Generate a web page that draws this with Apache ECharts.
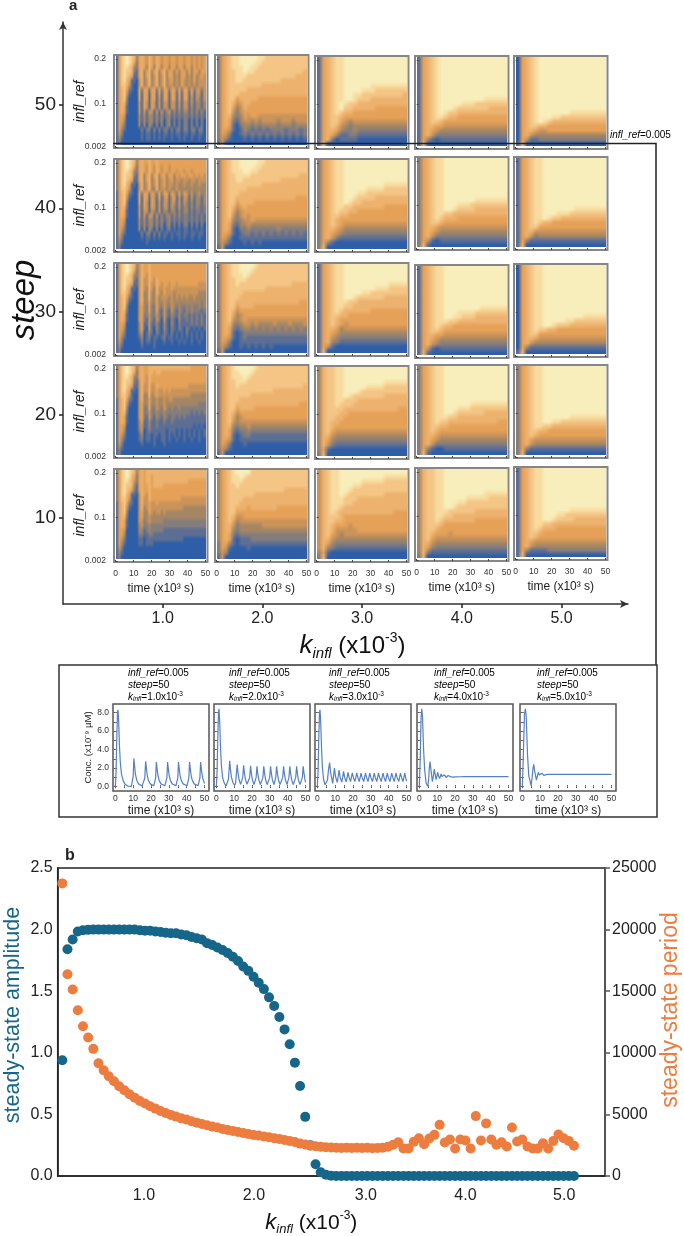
<!DOCTYPE html>
<html><head><meta charset="utf-8">
<script src="https://cdn.jsdelivr.net/npm/echarts@6/dist/echarts.min.js"></script>
<style>html,body{margin:0;padding:0;background:#fff}#c{width:684px;height:1236px}</style>
</head><body><div id="c"></div>
<script>
const rep=(s,n)=>Array(n).fill(s);
// ---- colour level per cell: rows top (infl_ref 0.2) to bottom (0.002), columns time 0 to 50
const s50_k1=["157898763565465465455455455455454545","157898752565465465455455455455454545","157887632565365365355355355355354545","157877621563563563563553535535355355","157876511563563463463553435534353454","157865110463463463463453435434353444","157764100463463463463443435434343444","156752100525525525255255252552524424","156741000515515515155155151551514414","156730000515515514155155151551414314","156620000415415414144144141441413313","156510000415415414144144141441313313","156510000414144141413413131331313131","155400000313133131312312121221212121","155300000313133131302302020220202020","154200000303032030302302020220202020","153100000020220202022020220220220220","142000000010110101011010110110110110","131000000010110101010010010100100100","120000000000000000000000000000000000"];
const s40_k1=["257898763565565565555555555555555555","257898752565465465455455555555555555","257887632565465465455455455455455555","257877621563563563553553545545545454","257876511563563463453453443443443444","257865110463463463453443433433433433","257764100463463363443433433333333333","156752100525525425255254252542423423","156741000515515415145145141441413313","156730000515415414144144141431313313","156620000415415414144143141331313212","156510000414414314133133131331212212","156510000414144141313313131221212121","155400000313133131312312121221212121","155300000313133131302302020220202020","154200000303032030201201010110101010","153100000020220202011010110110110110","142000000010110101010010010100100100","131000000000100000000000000000000000","120000000000000000000000000000000000"];
const s30_k1=["157898763465565555555555555555555555","157898752465565555555555555555555555","157887632465465555555555555555555555","157877621464465465555555555555555555","157876511464464465455455455555555444","157865110464364364454454444444444444","157764100463363364354443444444444333","156752100463363353444343434343343333","156741000463353353343343333333333323","156730000453252253243243232232322323","156620000453252252142142132132322212","156510000452242242142132131221212121","156510000452142142041031031121212121","155400000351141131031031021111212121","155300000351041031031021021021010101","154200000240131021021020101020101010","153100000130120110120110101010101010","142000000020110100010010010100100100","131000000010000100000000000000000000","120000000000000000000000000000000000"];
const s20_k1=["257898763565566666666666666666555555","257898752565566566555555555555555555","257887632565465555555555555555555555","257877621465465555555555555555555555","257876511464464465555555555554444444","257865110464464454454544444444444444","257764100463363454444444444444333333","156752100463353343343443333333333333","156741000453353343343333333333333222","156730000452252243243232232222222222","156620000452242232232222222222121212","156510000452142132132122121211111111","156510000351131121121121111111111111","155400000341131121111111111111101010","155300000240121111110111010101010101","154200000130110110110101010101010101","153100000120110100110100100100100100","142000000010000100010000000000000000","131000000000000000000000000000000000","120000000000000000000000000000000000"];
const s10_k1=["257898763565666666666666666666666666","257898652565665666666666666666666666","257887642565665666666666666665555555","257877631565565666655555555555555555","257876521565565555555555555555555555","257865110465465555555555555555555555","257764100464465555555555554444444444","156752100464454454444444444444444444","156741000463454444444444444333333333","156730000453354344343333333333333333","156620000453343333333333333333333333","156510000442343333322222222222222222","156510000342232222222222222222222222","155400000331232222211111111111111111","155300000221122111111111111111111111","154200000110111111111111111000000000","153100000110111000000000000000000000","142000000000000000000000000000000000","131000000000000000000000000000000000","120000000000000000000000000000000000"];
const s50_k2=["256788999998877777777777","256788999988777777777777","256788899887777777777777","256778898877777777777776","256778887777777777777666","256778877777777776666666","256777777777666666666666","256777776666666666666666","256777666666666666666666","256775666665555555555555","256764566555555555555555","256753465555555555555555","256742455555555555555555","256632354554444444444444","256521344343444434443444","256510233232333323332333","255410132121212222122212","254200121212121212121212","243100010101010101010101","140000000000000000000000"];
const s40_k2=["256788999998877777777777","256788999988777777777777","256788899887777777777777","256778888777777777777766","256778877777777776666666","256777777777666666666666","256777776666666666666666","256777666666666666666666","256776666666666666666555","256775666655555555555555","256764565555555555555555","256753455555555555555555","256742454555555555555555","256632344544444444444444","256521334333333333333333","256510223222222232222222","255410122121212121212121","254200111111111111111111","243100010101000000000000","140000000000000000000000"];
const s30_k2=["256788999987777777777777","256788999877777777777777","256788898777777777777777","256778887777777777777777","256778777777777777776666","256777777777766666666666","256777766666666666666666","256777666666666666666666","256776666666666666666655","256775666655555555555555","256764555555555555555555","256753455555555555555555","256743454444444444444444","256632344343333433343334","256521233232323232323232","256510122222222222222222","255410121111111111111111","254200111111111111111111","243100101010101000000000","140000000000000000000000"];
const s20_k2=["256789999987777777777777","256788999877777777777777","256788898777777777777777","256778887777777777777777","256778777777777777777776","256777777777777666666666","256777777666666666666666","256777666666666666666666","256776666666666666666655","256775666655555555555555","256764555555555555555555","256753455555555555555555","256743444444444444444444","256632334333333333333333","256521223222222222222222","256510122111111111111111","255410111111111111111111","254200010000000000000000","243100000000000000000000","140000000000000000000000"];
const s10_k2=["356789999777777777777777","356788987777777777777777","356788877777777777777777","356778777777777777777777","356777777777777777666666","356777777766666666666666","356777766666666666666666","356777666666666666666666","356776665666666655555555","356775555555555555555555","356764455555555555555555","356753444444444444444444","356642333333444444444444","356632333333333333333333","356521222222222222222222","356510111222222222222222","255310111111111111111111","254100001000000000000000","243000000000000000000000","140000000000000000000000"];
const s50_k3=[...rep("15678899999999999999",6),"15678899999988888888","15678899998887777777","15678899887777777776","15678899877766666666","15678987766666666666","15678977666665555555","15678766555555555555","15677655555555555555","15677543444444444444","15676432333333333333","15665322322222222222","15653112211111111111","15620111100000000000","16000000000000000000"];
const s40_k3=[...rep("25678899999999999999",5),"25678899999999988888","25678899999888877777","25678899988777777777","25678899877776666666","25678898776666666666","25678877666666655555","25678776655555555555","25677665555555555555","25676555555555555555","25676544444444444444","25665433333333333333","25654322222222222222","25642111111111111111","25310000000000000000","26000000000000000000"];
const s30_k3=[...rep("15678899999999999999",4),"15678899999999998888","15678899999998887777","15678899998877777777","15678899877777766666","15678887766666666666","15678877666666666666","15678766666655555555","15677665555555555555","15676555555555555555","15676545555555555555","15665344444444444444","15654333333333333333","15643222222222222222","15632111111111111111","15410000000000000000","16000000000000000000"];
const s20_k3=[...rep("36778899999999999999",3),"36778899999999988888","36778899999888877777","36778899987777777777","36778898777777766666","36778877766666666666","36778777666666666666","36777766666666666655","36777665555555555555","36776655555555555555","36766555555555555555","36765555555555555555","36754444444444444444","36643333333333333333","36532222222222222222","36421111111111111111","35100000000000000000","26000000000000000000"];
const s10_k3=["46788999999999999999","46788999999999988888","46788999998888877777","46788999887777777777","46788998777777777777","46788987777777766666","46788877766666666666","46788877666666666666","46788766666666666666","46787666666666666555","46777655555555555555","46776655555555555555","46765554555555555555","46764444455555555555","46754344444444444444","46643333333333333333","46532222222222222222","46321111111111111111","35100000000000000000","26000000000000000000"];
const s50_k4=[...rep("15678999999999999999",9),"15678999999999988888","15678999998887777777","15678999877777776666","15678987766666666666","15678876655555555555","15677655555555555555","15665544444444444444","15654333333333333333","15642222222222222222","15310111111111111111","16000000000000000000"];
const s40_k4=[...rep("25678899999999999999",9),"25678899999998888888","25678899988877777777","25678899877776666666","25678877666666666666","25678766655555555555","25677655555555555555","25665444444444444444","25654333333333333333","25642222222222222222","25410111111111111111","26100000000000000000"];
const s30_k4=[...rep("15678899999999999999",9),"15678899999999888888","15678899988887777777","15678899887776666666","15678887766666666666","15678766555555555555","15677655555555555555","15665544444444444444","15654333333333333333","15643222222222222222","15410111111111111111","16100000000000000000"];
const s20_k4=[...rep("25678899999999999999",8),"25678899999988888888","25678899988877777777","25678899877777766666","25678887766666666666","25678776666666666655","25677665555555555555","25676555555555555555","25665444444444444444","25654333333333333333","25642222222222222222","25310011111111111111","26100000000000000000"];
const s10_k4=[...rep("36778899999999999999",5),"36778899999999988888","36778899999888887777","36778899988777777777","36778899877777777777","36778887777776666666","36778877666666666666","36778766666665555555","36777655555555555555","36776555555555555555","36765554555555555555","36754444444444444444","36643333333333333333","36532222222222222222","36311111111111111111","26000000000000000000"];
const s50_k5=[...rep("05678999999999999999",12),"05678999999988888888","05678999887777777777","05678987666666666666","05677665555555555555","05665445555555555555","05643333333333333333","05411222222222222222","16000000000000000000"];
const s40_k5=[...rep("15678899999999999999",11),"15678899999998888888","15678899988877777777","15678898776666666666","15678766555555555555","15677555555555555555","15664444444444444444","15642333333333333333","15311111111111111111","16000000000000000000"];
const s30_k5=[...rep("05678899999999999999",11),"05678899999999988888","05678899999887777777","05678899877766666666","05678776655555555555","05677555555555555555","05665444444444444444","05643333333333333333","05311111111111111111","16000000000000000000"];
const s20_k5=[...rep("25678899999999999999",11),"25678899999988888888","25678899887777777777","25678877666666666666","25677665555555555555","25676555555555555555","25654444444444444444","25643333333333333333","25311111111111111111","26000000000000000000"];
const s10_k5=[...rep("15678899999999999999",9),"15678899999988888888","15678899988777777777","15678899877776666666","15678877666666666666","15678766655555555555","15677655555555555555","15676555555555555555","15654444444444444444","15643333333333333333","15311112222222222222","16000000000000000000"];
const heatPanels=[[s50_k1,s50_k2,s50_k3,s50_k4,s50_k5],[s40_k1,s40_k2,s40_k3,s40_k4,s40_k5],[s30_k1,s30_k2,s30_k3,s30_k4,s30_k5],[s20_k1,s20_k2,s20_k3,s20_k4,s20_k5],[s10_k1,s10_k2,s10_k3,s10_k4,s10_k5]];
const levelColors=["#2f5ea8","#5c6e94","#847d7c","#a58664","#ca935a","#e5a158","#edb26e","#f4c585","#f8dc9f","#f8eebb"];

// ---- concentration traces [time, value]
const conc_k1=[[0,0],[.4,1.5],[.8,5],[1.2,8],[1.5,8.3],[1.9,7],[2.3,4.5],[2.8,2.6],[3.5,1.3],[4.5,.6],[5.5,.25],[7,.06],[9,.02],[9.6,.2],[10,1.1],[10.4,3.05],[10.8,2.2],[11.3,1.3],[12,.7],[13,.3],[14,.15],[15,.08],[16,.15],[16.5,.9],[17,2.75],[17.4,2],[17.9,1.2],[18.6,.65],[19.6,.3],[20.6,.15],[21.6,.1],[22.2,.25],[22.6,.95],[23,2.65],[23.4,1.95],[23.9,1.2],[24.6,.65],[25.6,.3],[26.6,.15],[27.8,.1],[28.5,.25],[28.9,.95],[29.3,2.65],[29.7,1.95],[30.2,1.2],[30.9,.65],[31.9,.3],[32.9,.15],[34,.1],[34.6,.25],[35,.95],[35.4,2.65],[35.8,1.95],[36.3,1.2],[37,.65],[38,.3],[39,.15],[40.2,.1],[40.8,.25],[41.2,.95],[41.6,2.65],[42,1.95],[42.5,1.2],[43.2,.65],[44.2,.3],[45.2,.15],[46.4,.1],[47,.25],[47.4,.95],[47.8,2.65],[48.2,1.95],[48.7,1.2],[49.4,.65],[50,.35]];
const conc_k2=[[0,0],[.4,1.5],[.8,5],[1.2,8],[1.5,8.4],[1.9,7],[2.3,4.5],[2.8,2.4],[3.5,1],[4.5,.35],[5.5,.1],[6.3,.12],[6.8,.8],[7.5,2.8],[7.9,1.9],[8.5,1],[9.3,.45],[10.2,.12],[10.8,.4],[11.2,1.3],[11.7,2.4],[12.1,1.6],[12.7,.8],[13.6,.25],[14.4,.12],[14.8,1],[15.3,2.3],[15.7,1.55],[16.3,.8],[17.2,.25],[18.2,.1],[18.7,1],[19.2,2.25],[19.6,1.5],[20.2,.75],[21.1,.22],[21.9,.1],[22.3,1],[22.8,2.2],[23.2,1.5],[23.8,.75],[24.7,.22],[25.6,.1],[26.1,1],[26.6,2.2],[27,1.5],[27.6,.75],[28.5,.22],[29.5,.1],[29.9,1],[30.4,2.2],[30.8,1.5],[31.4,.75],[32.3,.22],[32.9,.1],[33.3,1],[33.8,2.2],[34.2,1.5],[34.8,.75],[35.7,.22],[36.7,.1],[37.2,1],[37.7,2.2],[38.1,1.5],[38.7,.75],[39.6,.22],[40.3,.1],[40.7,1],[41.2,2.2],[41.6,1.5],[42.2,.75],[43.1,.22],[44,.1],[44.5,1],[45,2.2],[45.4,1.5],[46,.75],[46.9,.22],[47.8,.1],[48.2,1],[48.7,2.2],[49.1,1.5],[49.7,.75],[50,.45]];
const conc_k3=[[0,0],[.4,1.5],[.8,5],[1.2,8],[1.5,8.3],[1.9,7],[2.3,4.5],[2.8,2.2],[3.5,.8],[4.3,.2],[5.1,.1],[5.7,.7],[6.3,1.9],[6.9,2.6],[7.4,1.6],[8.6,.35],[9,1],[9.6,2],[10.2,1.1],[11.2,.45],[11.7,1.1],[12.2,1.8],[12.8,1],[13.7,.5],[14.2,1],[14.7,1.65],[15.3,1],[16.2,.52],[16.7,1],[17.2,1.55],[17.8,1],[18.6,.55],[19.1,1],[19.6,1.5],[20.2,1],[21,.55],[21.6,1],[22.1,1.48],[22.7,1],[23.5,.55],[24,1],[24.5,1.46],[25.1,1],[26,.55],[26.5,1],[27,1.45],[27.6,1],[28.4,.55],[28.9,1],[29.4,1.45],[30,1],[30.9,.55],[31.4,1],[31.9,1.45],[32.5,1],[33.3,.55],[33.8,1],[34.3,1.45],[34.9,1],[35.8,.55],[36.3,1],[36.8,1.45],[37.4,1],[38.2,.55],[38.7,1],[39.2,1.45],[39.8,1],[40.7,.55],[41.2,1],[41.7,1.45],[42.3,1],[43.1,.55],[43.6,1],[44.1,1.45],[44.7,1],[45.6,.55],[46.1,1],[46.6,1.45],[47.2,1],[48,.55],[48.5,1],[49,1.45],[49.6,.9],[50,.6]];
const conc_k4=[[0,0],[.5,3],[1,7.5],[1.4,8.4],[1.8,7.5],[2.4,4],[3,1.8],[3.8,.4],[4.7,.05],[5.2,.7],[5.6,2],[6,2.7],[6.5,1.9],[7.3,.55],[7.9,1.2],[8.4,1.9],[8.9,1.3],[9.4,.75],[9.9,1.2],[10.3,1.55],[10.8,1.15],[11.3,.88],[11.8,1.1],[12.2,1.38],[12.7,1.1],[13.2,.95],[13.7,1.1],[14.1,1.27],[14.6,1.08],[15.1,.98],[15.6,1.08],[16,1.2],[16.5,1.08],[17,1],[17.5,1.08],[17.9,1.15],[18.8,1.03],[19.8,1.12],[20.8,1.05],[21.8,1.1],[23,1.07],[25,1.09],[50,1.08]];
const conc_k5=[[0,0],[.5,3],[1.2,7.8],[1.7,8.4],[2.2,7.5],[2.9,3.5],[3.6,1.2],[4.9,.1],[5.5,1],[6,2],[6.4,2.4],[6.9,1.7],[7.9,.7],[8.5,1.2],[9,1.55],[9.5,1.25],[10,1.05],[10.5,1.25],[11,1.45],[11.5,1.3],[12,1.22],[12.5,1.32],[13,1.38],[14,1.33],[50,1.33]];
const concTraces=[conc_k1,conc_k2,conc_k3,conc_k4,conc_k5];
const kinflTexts=["1.0","2.0","3.0","4.0","5.0"];

// ---- panel b
const amplitude=[.94,1.84,1.92,1.985,1.995,1.998,2,2,2,2,2,2,2,2,2,1.995,1.99,1.99,1.985,1.98,1.975,1.97,1.97,1.96,1.955,1.94,1.93,1.92,1.89,1.875,1.855,1.835,1.81,1.78,1.745,1.7,1.665,1.617,1.568,1.517,1.45,1.38,1.29,1.19,1.07,.92,.73,.48,.25,.095,.03,.01,.003,...rep(0,47)];
const period=[23750,16380,15140,13460,12160,11240,10320,9150,8580,8100,7690,7280,6960,6630,6360,6090,5880,5660,5470,5280,5120,4960,4820,4680,4580,4440,4330,4220,4120,4010,3930,3820,3740,3660,3570,3490,3410,3330,3280,3200,3140,3060,3010,2920,2840,2760,2630,2550,2460,2410,2380,2330,2310,2300,2280,2290,2280,2300,2270,2290,2260,2280,2290,2380,2530,2740,2230,2230,2770,3070,2580,3040,3340,4160,2720,2960,2230,2960,2880,2230,4860,2880,4270,2960,2530,2740,2390,3940,2800,2960,2390,2230,2230,2660,2230,2850,3370,3070,2850,2450];
const kinflStart=0.15, kinflStep=0.05;
const kinfl=amplitude.map((_,i)=>+(kinflStart+i*kinflStep).toFixed(2));
const bTickAt=[0.94,2.004,3.087,4.05,5.005];

// ---- layout
const F='"Liberation Sans",Arial,sans-serif';
const panelLeft=[114,215,315,415,514];
const panelTop=[[55,55,56,56,56],[159,159,159,157,157],[263,263,263,265,264],[365,365,366,365,365],[469,469,469,468,467]];
const grid=[],xAxis=[],yAxis=[],series=[];
function addGrid(g){grid.push({outerBoundsMode:'none',containLabel:false,...g});return grid.length-1;}
const gap=()=>({show:false});

// big outer axes
let gi=addGrid({left:63,top:22,width:565,height:582});
xAxis.push({gridIndex:gi,type:'value',min:0,max:5.667,splitLine:gap(),
 axisLine:{show:true,onZero:false,symbol:['none','arrow'],symbolSize:[6,8],lineStyle:{color:'#333',width:1.5}},
 axisTick:{show:true,length:4,customValues:[1,2,3,4,5],lineStyle:{color:'#222',width:1.5}},
 axisLabel:{customValues:[1,2,3,4,5],formatter:v=>v.toFixed(1),fontFamily:F,fontSize:16,color:'#222',margin:7},
 name:'{k|k}{s|infl}{t| (x10}{u|-3}{t|)}',nameLocation:'middle',nameGap:27,
 nameTextStyle:{padding:[0,0,0,14],rich:{k:{fontFamily:F,fontStyle:'italic',fontSize:26,color:'#111',lineHeight:30},s:{fontFamily:F,fontStyle:'italic',fontSize:15,color:'#111',verticalAlign:'bottom',lineHeight:30},t:{fontFamily:F,fontSize:24,color:'#111',lineHeight:30},u:{fontFamily:F,fontSize:14,color:'#111',verticalAlign:'top',lineHeight:30}}}});
yAxis.push({gridIndex:gi,type:'value',min:1.67,max:58.04,splitLine:gap(),
 axisLine:{show:true,onZero:false,symbol:['none','arrow'],symbolSize:[6,8],lineStyle:{color:'#333',width:1.5}},
 axisTick:{show:true,length:4,customValues:[10,20,30,40,50],lineStyle:{color:'#222',width:1.5}},
 axisLabel:{customValues:[10,20,30,40,50],fontFamily:F,fontSize:19,color:'#222',margin:7},
 name:'steep',nameLocation:'middle',nameGap:22,nameRotate:90,nameMoveOverlap:false,
 nameTextStyle:{fontFamily:F,fontStyle:'italic',fontSize:33,color:'#111',padding:[0,0,0,26]}});
series.push({type:'scatter',xAxisIndex:xAxis.length-1,yAxisIndex:yAxis.length-1,data:[],silent:true});

// heatmap panels: each panel's cells are painted one pixel per cell, then scaled through the axes with smoothing
const heatTop=0.2068,heatBottom=0.0065;
function cellsToCanvas(rows){
 const w=Math.max(...rows.map(s=>s.length)),cv=document.createElement('canvas');
 cv.width=w;cv.height=rows.length;
 const ctx=cv.getContext('2d');
 rows.forEach((str,ri)=>{for(let i=0;i<w;i++){ctx.fillStyle=levelColors[+str[Math.floor(i*str.length/w)]];ctx.fillRect(i,ri,1,1);}});
 return cv;
}
function makeRender(cv){return function(params,api){
 if(params.dataIndex!==0) return null;
 const a=api.coord([0,heatTop]),b=api.coord([50,heatBottom]);
 return {type:'image',style:{image:cv,x:a[0],y:a[1],width:b[0]-a[0],height:b[1]-a[1]}};
};}
heatPanels.forEach((row,r)=>row.forEach((rows,c)=>{
 const g=addGrid({left:panelLeft[c],top:panelTop[r][c],width:93.5,height:93,show:true,borderColor:'#868686',borderWidth:2,backgroundColor:'transparent'});
 const last=r===4,first=c===0;
 xAxis.push({gridIndex:g,type:'value',min:-0.95,max:51.1,splitLine:gap(),axisLine:gap(),z:5,
  axisTick:{show:true,inside:true,length:2,customValues:[0,10,20,30,40,50],lineStyle:{color:'#444',width:1}},
  axisLabel:last?{customValues:[0,10,20,30,40,50],fontFamily:F,fontSize:8.5,color:'#333',margin:7}:{show:false},
  name:last?'time (x10³ s)':'',nameLocation:'middle',nameGap:21,nameTextStyle:{fontFamily:F,fontSize:12,color:'#222'}});
 yAxis.push({gridIndex:g,type:'value',min:0,max:0.209,splitLine:gap(),axisLine:gap(),z:5,
  axisTick:{show:true,inside:true,length:2,customValues:[0.002,0.1,0.2],lineStyle:{color:'#444',width:1}},
  axisLabel:first?{customValues:[0.002,0.1,0.2],formatter:v=>String(v),fontFamily:F,fontSize:8.5,color:'#333',margin:8}:{show:false},
  name:first?'infl_ref':'',nameLocation:'middle',nameGap:27,nameRotate:90,nameMoveOverlap:false,nameTextStyle:{fontFamily:F,fontStyle:'italic',fontSize:14,color:'#222'}});
 const cells=[];
 rows.forEach((str,ri)=>{
  const y1=heatTop-ri*(heatTop-heatBottom)/rows.length,y0=heatTop-(ri+1)*(heatTop-heatBottom)/rows.length;
  for(let ci=0;ci<str.length;ci++) cells.push([ci*50/str.length,(ci+1)*50/str.length,y0,y1,+str[ci]]);
 });
 series.push({type:'custom',xAxisIndex:xAxis.length-1,yAxisIndex:yAxis.length-1,renderItem:makeRender(cellsToCanvas(rows)),data:cells,encode:{x:[0,1],y:[2,3]},silent:true,animation:false,z:3,clip:true,progressive:0});
}));

// trace panels
const concLeft=[113,214,315,417,520];
const concTicksX=[0,5,10,15,20,25,30,35,40,45,50],concTicksY=[0,1,2,3,4,5,6,7,8];
concTraces.forEach((tr,i)=>{
 const g=addGrid({left:concLeft[i],top:704,width:96,height:87,show:true,borderColor:'#555',borderWidth:1.5});
 const xi=xAxis.length,yi=yAxis.length;
 const tick={show:true,inside:true,length:1.5,lineStyle:{color:'#555',width:1}};
 xAxis.push({gridIndex:g,type:'value',min:-1.3,max:52.5,position:'bottom',splitLine:gap(),axisLine:gap(),axisTick:{...tick,customValues:concTicksX},
  axisLabel:{customValues:[0,10,20,30,40,50],fontFamily:F,fontSize:8.5,color:'#333',margin:3},
  name:'time (x10³ s)',nameLocation:'middle',nameGap:14,nameTextStyle:{fontFamily:F,fontSize:12,color:'#222'}});
 xAxis.push({gridIndex:g,type:'value',min:-1.3,max:52.5,position:'top',splitLine:gap(),axisLine:gap(),axisTick:{...tick,customValues:concTicksX},axisLabel:{show:false}});
 yAxis.push({gridIndex:g,type:'value',min:-0.47,max:8.93,position:'left',splitLine:gap(),axisLine:gap(),axisTick:{...tick,customValues:concTicksY},
  axisLabel:i===0?{customValues:[0,2,4,6,8],formatter:v=>v.toFixed(1),fontFamily:F,fontSize:8.5,color:'#333',margin:4}:{show:false},
  name:i===0?'Conc. (x10⁻⁹ µM)':'',nameLocation:'middle',nameGap:20,nameRotate:90,nameMoveOverlap:false,nameTextStyle:{fontFamily:F,fontSize:9.5,color:'#222'}});
 yAxis.push({gridIndex:g,type:'value',min:-0.47,max:8.93,position:'right',splitLine:gap(),axisLine:gap(),axisTick:{...tick,customValues:concTicksY},axisLabel:{show:false}});
 series.push({type:'line',xAxisIndex:xi,yAxisIndex:yi,data:tr,showSymbol:false,smooth:false,lineStyle:{color:'#5480c4',width:1.2},animation:false,silent:true});
});

// panel b
gi=addGrid({left:57.7,top:868,width:547.3,height:308,show:true,borderColor:'#222',borderWidth:1.5});
const bx=xAxis.length,by=yAxis.length;
xAxis.push({gridIndex:gi,type:'value',min:0.1055,max:5.4,splitLine:gap(),axisLine:{show:true,lineStyle:{color:'#222',width:1.5}},axisTick:gap(),
 axisLabel:{customValues:bTickAt,formatter:v=>kinflTexts[bTickAt.indexOf(v)],fontFamily:F,fontSize:16,color:'#222',margin:12},
 name:'{k|k}{s|infl}{t| (x10}{u|-3}{t|)}',nameLocation:'middle',nameGap:34,
 nameTextStyle:{padding:[0,40,0,0],rich:{k:{fontFamily:F,fontStyle:'italic',fontSize:22,color:'#111',lineHeight:26},s:{fontFamily:F,fontStyle:'italic',fontSize:13,color:'#111',verticalAlign:'bottom',lineHeight:26},t:{fontFamily:F,fontSize:21,color:'#111',lineHeight:26},u:{fontFamily:F,fontSize:12,color:'#111',verticalAlign:'top',lineHeight:26}}}});
yAxis.push({gridIndex:gi,type:'value',min:0,max:2.5,interval:0.5,position:'left',splitLine:gap(),axisLine:{show:true,lineStyle:{color:'#222',width:1.5}},axisTick:gap(),
 axisLabel:{formatter:v=>v.toFixed(1),fontFamily:F,fontSize:16,color:'#222',margin:5},
 name:'steady-state amplitude',nameLocation:'middle',nameGap:34,nameRotate:90,nameMoveOverlap:false,nameTextStyle:{fontFamily:F,fontSize:21.5,color:'#16668a',padding:[0,0,0,14]}});
yAxis.push({gridIndex:gi,type:'value',min:0,max:25000,interval:5000,position:'right',splitLine:gap(),axisLine:{show:true,lineStyle:{color:'#555',width:1.5}},axisTick:{show:true,length:5,lineStyle:{color:'#555',width:1.5}},
 axisLabel:{formatter:v=>String(v),fontFamily:F,fontSize:16,color:'#222',margin:7},
 name:'steady-state period',nameLocation:'middle',nameGap:54,nameRotate:90,nameMoveOverlap:false,nameTextStyle:{fontFamily:F,fontSize:23,color:'#ed7d3f',padding:[0,0,0,24]}});
series.push({type:'scatter',name:'steady-state amplitude',xAxisIndex:bx,yAxisIndex:by,data:amplitude.map((v,i)=>[kinfl[i],v]),symbolSize:10,itemStyle:{color:'#16668a',opacity:1},animation:false,silent:true,z:3});
series.push({type:'scatter',name:'steady-state period',xAxisIndex:bx,yAxisIndex:by+1,data:period.map((v,i)=>[kinfl[i],v]),symbolSize:10,itemStyle:{color:'#ed7d3f',opacity:1},animation:false,silent:true,z:4});

// annotations
const capX=[128,229,329,434,537];
const capRich={i:{fontFamily:F,fontStyle:'italic',fontSize:10,color:'#333',lineHeight:12},n:{fontFamily:F,fontSize:10,color:'#333',lineHeight:12},s:{fontFamily:F,fontStyle:'italic',fontSize:6.5,color:'#333',verticalAlign:'bottom',lineHeight:12},u:{fontFamily:F,fontSize:6.5,color:'#333',verticalAlign:'top',lineHeight:12}};
const graphic=[
 {type:'polyline',z:100,silent:true,shape:{points:[[113,143.5],[656,143.5],[656,665]]},style:{stroke:'#222',lineWidth:1.5,fill:null}},
 {type:'rect',z:100,silent:true,shape:{x:59,y:665,width:598,height:152},style:{stroke:'#333',lineWidth:1.5,fill:null}},
 {type:'text',z:100,silent:true,left:69,top:-2,style:{text:'a',font:'bold 15px '+F,fill:'#222'}},
 {type:'text',z:100,silent:true,left:65,top:848,style:{text:'b',font:'bold 16px '+F,fill:'#222'}},
 {type:'text',z:100,silent:true,left:610,top:130,style:{rich:capRich,text:'{i|infl_ref}{n|=0.005}'}}
];
kinflTexts.forEach((k,i)=>graphic.push({type:'text',z:100,silent:true,left:capX[i],top:668,style:{rich:capRich,text:`{i|infl_ref}{n|=0.005}\n{i|steep}{n|=50}\n{i|k}{s|infl}{n|=${k}x10}{u|-3}`}}));

const chart=echarts.init(document.getElementById('c'),null,{renderer:'canvas'});
chart.setOption({animation:false,backgroundColor:'#fff',tooltip:{show:false},grid,xAxis,yAxis,series,graphic});
</script></body></html>
